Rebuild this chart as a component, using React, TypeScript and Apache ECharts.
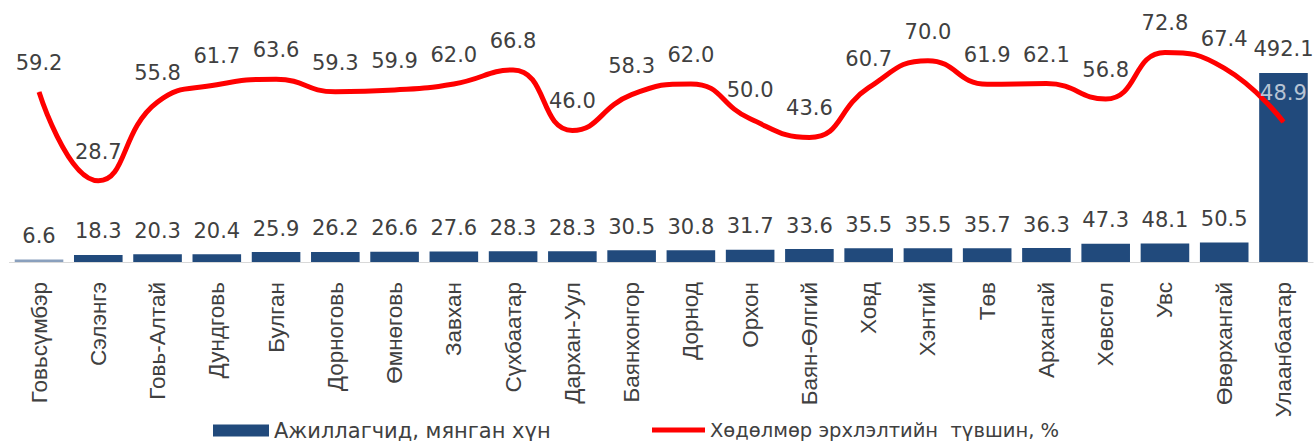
import React, { useEffect, useRef } from "react";
import * as echarts from "echarts";

const categories = [
  "Говьсүмбэр", "Сэлэнгэ", "Говь-Алтай", "Дундговь", "Булган", "Дорноговь",
  "Өмнөговь", "Завхан", "Сүхбаатар", "Дархан-Уул", "Баянхонгор", "Дорнод",
  "Орхон", "Баян-Өлгий", "Ховд", "Хэнтий", "Төв", "Архангай", "Хөвсгөл",
  "Увс", "Өвөрхангай", "Улаанбаатар",
];
const employed = [
  6.6, 18.3, 20.3, 20.4, 25.9, 26.2, 26.6, 27.6, 28.3, 28.3, 30.5, 30.8,
  31.7, 33.6, 35.5, 35.5, 35.7, 36.3, 47.3, 48.1, 50.5, 492.1,
];
const employmentRate = [
  59.2, 28.7, 55.8, 61.7, 63.6, 59.3, 59.9, 62.0, 66.8, 46.0, 58.3, 62.0,
  50.0, 43.6, 60.7, 70.0, 61.9, 62.1, 56.8, 72.8, 67.4, 48.9,
];
const barName = "Ажиллагчид, мянган хүн";
const lineName = "Хөдөлмөр эрхлэлтийн  түвшин, %";

const BAR = "#214a7c";
const BAR_LIGHT = "#8aa0bd";
const TXT = "#404040";
const NUM_FONT = "DejaVu Sans";

export default function App() {
  const ref = useRef<HTMLDivElement>(null);
  useEffect(() => {
    const chart = echarts.init(ref.current!, null, { renderer: "svg" });
    chart.setOption({
      animation: false,
      backgroundColor: "#ffffff",
      grid: { left: 9.4, right: 1.9, top: 10, bottom: 179 },
      legend: [
        {
          left: 213,
          top: 420,
          padding: 0,
          data: [{ name: barName, icon: "rect" }],
          itemWidth: 56,
          itemHeight: 12,
          textStyle: { fontFamily: NUM_FONT, fontSize: 21, color: TXT },
        },
        {
          left: 652,
          top: 420,
          padding: 0,
          data: [{ name: lineName, icon: "path://M0,0 L53,0 L53,5 L0,5 Z" }],
          itemWidth: 53,
          itemHeight: 5,
          textStyle: { fontFamily: NUM_FONT, fontSize: 19.5, color: TXT },
        },
      ],
      xAxis: {
        type: "category",
        data: categories,
        axisLine: { show: true, lineStyle: { color: "#d9d9d9", width: 1 } },
        axisTick: { show: false },
        axisLabel: {
          rotate: 90,
          interval: 0,
          margin: 20,
          fontFamily: "Liberation Sans",
          fontSize: 22.5,
          color: TXT,
        },
      },
      yAxis: [
        { type: "value", min: 0, max: 656, show: false, splitLine: { show: false } },
        { type: "value", min: 0.8, max: 87.4, show: false, splitLine: { show: false } },
      ],
      series: [
        {
          name: barName,
          type: "bar",
          yAxisIndex: 0,
          barCategoryGap: "18%",
          itemStyle: { color: BAR },
          data: employed.map((v, i) =>
            i === 0 ? { value: v, itemStyle: { color: BAR_LIGHT } } : v
          ),
          label: {
            show: true,
            position: "top",
            distance: 13,
            fontFamily: NUM_FONT,
            fontSize: 21,
            color: TXT,
            formatter: (p: any) => Number(p.value).toFixed(1),
          },
        },
        {
          name: lineName,
          type: "line",
          yAxisIndex: 1,
          smooth: 0.5,
          symbol: "circle",
          symbolSize: 1,
          itemStyle: { color: "#ff0000" },
          lineStyle: { color: "#ff0000", width: 5 },
          data: employmentRate.map((v, i) =>
            i === employmentRate.length - 1
              ? { value: v, label: { color: "#b8c4d4" } }
              : v
          ),
          label: {
            show: true,
            position: "top",
            distance: 18,
            fontFamily: NUM_FONT,
            fontSize: 21,
            color: TXT,
            formatter: (p: any) => Number(p.value).toFixed(1),
          },
          z: 3,
        },
      ],
    });
    return () => chart.dispose();
  }, []);
  return (
    <div
      ref={ref}
      style={{ position: "fixed", left: 0, top: 0, width: 1315, height: 441 }}
    />
  );
}
